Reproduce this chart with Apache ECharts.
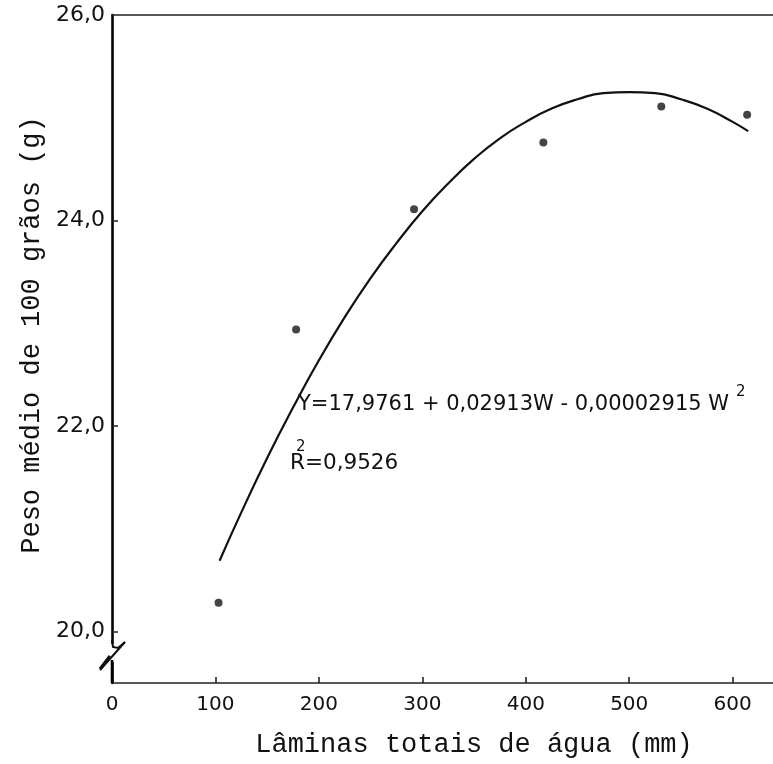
<!DOCTYPE html>
<html>
<head>
<meta charset="utf-8">
<script src="https://cdn.jsdelivr.net/npm/echarts@6/dist/echarts.min.js"></script>
<style>
  html, body { margin: 0; padding: 0; background: #ffffff; }
  #chart { width: 773px; height: 764px; }
</style>
</head>
<body>
<div id="chart"></div>
<script>
// Observed means: water depth (mm) vs mean weight of 100 grains (g)
const laminas = [103, 178, 292, 417, 531, 614];
const pesoMedio = [20.28, 22.94, 24.11, 24.76, 25.11, 25.03];

// Fitted quadratic Y = 17,9761 + 0,02913W - 0,00002915W², sampled along W
const curvaW = [104, 125, 150, 175, 200, 225, 250, 275, 300, 325, 350, 375, 400, 425, 450, 475, 500, 525, 550, 575, 600, 615];
const curvaY = [20.69, 21.16, 21.69, 22.18, 22.64, 23.06, 23.44, 23.78, 24.09, 24.36, 24.60, 24.80, 24.96, 25.09, 25.18, 25.24, 25.25, 25.24, 25.18, 25.09, 24.96, 24.87];

// Axis ticks
const xTicks = [0, 100, 200, 300, 400, 500, 600];
const yTicks = [20, 22, 24, 26];

const equacao = 'Y=17,9761 + 0,02913W - 0,00002915 W';
const r2Texto = 'R=0,9526';

const chart = echarts.init(document.getElementById('chart'), null, { renderer: 'canvas' });

const ink = '#111';
const labelFont = 'DejaVu Sans';
const monoFont = 'Liberation Mono';

chart.setOption({
  backgroundColor: '#ffffff',
  animation: false,
  grid: { left: 112, right: 0, top: 15, bottom: 81, containLabel: false },
  xAxis: [
    {
      type: 'value',
      min: 0,
      max: 639,
      position: 'bottom',
      axisLine: { show: true, lineStyle: { color: '#222', width: 1.6 } },
      axisTick: { show: true, inside: true, length: 6, customValues: xTicks.slice(1), lineStyle: { color: '#222', width: 1.6 } },
      axisLabel: {
        show: true, customValues: xTicks, margin: 12,
        fontFamily: labelFont, fontSize: 20, color: ink
      },
      splitLine: { show: false }
    },
    {
      type: 'value',
      min: 0,
      max: 639,
      position: 'top',
      axisLine: { show: true, onZero: false, lineStyle: { color: '#222', width: 1.6 } },
      axisTick: { show: false },
      axisLabel: { show: false },
      splitLine: { show: false }
    }
  ],
  yAxis: {
    type: 'value',
    min: 19.5,
    max: 26,
    axisLine: { show: true, lineStyle: { color: '#000', width: 2.6 } },
    axisTick: { show: true, inside: true, length: 6, customValues: yTicks.slice(0, 3), lineStyle: { color: '#222', width: 1.5 } },
    axisLabel: {
      show: true, customValues: yTicks, margin: 7,
      fontFamily: labelFont, fontSize: 22, color: ink,
      formatter: v => v.toFixed(1).replace('.', ',')
    },
    splitLine: { show: false }
  },
  series: [
    {
      name: 'Ajuste',
      type: 'line',
      smooth: true,
      showSymbol: false,
      data: curvaW.map((w, i) => [w, curvaY[i]]),
      lineStyle: { color: '#111', width: 2.2 },
      z: 3
    },
    {
      name: 'Médias',
      type: 'scatter',
      data: laminas.map((w, i) => [w, pesoMedio[i]]),
      symbol: 'circle',
      symbolSize: 8,
      itemStyle: { color: '#151515' },
      z: 4
    }
  ],
  graphic: [
    // axis break on the y axis
    { type: 'rect', shape: { x: 106, y: 644, width: 12, height: 18 }, style: { fill: '#ffffff' }, z: 50 },
    { type: 'polyline', shape: { points: [[112, 640], [113, 647], [118, 648], [125, 642]] },
      style: { stroke: '#111', lineWidth: 2, fill: null }, z: 51 },
    { type: 'polyline', shape: { points: [[125, 642], [100, 670]] },
      style: { stroke: '#111', lineWidth: 2, fill: null }, z: 51 },
    { type: 'polyline', shape: { points: [[110, 656], [100, 669]] },
      style: { stroke: '#111', lineWidth: 3, fill: null }, z: 51 },
    { type: 'polyline', shape: { points: [[112, 660], [112, 683]] },
      style: { stroke: '#000', lineWidth: 2.6, fill: null }, z: 51 },
    // regression equation
    { type: 'text', x: 298, y: 405, z: 60,
      style: { text: equacao, fontFamily: labelFont, fontSize: 21, fill: ink, textVerticalAlign: 'middle', textAlign: 'left' } },
    { type: 'text', x: 736, y: 392, z: 60,
      style: { text: '2', fontFamily: labelFont, fontSize: 15, fill: ink, textVerticalAlign: 'middle', textAlign: 'left' } },
    { type: 'text', x: 290, y: 463, z: 60,
      style: { text: r2Texto, fontFamily: labelFont, fontSize: 21.5, fill: ink, textVerticalAlign: 'middle', textAlign: 'left' } },
    { type: 'text', x: 296, y: 447, z: 60,
      style: { text: '2', fontFamily: labelFont, fontSize: 15, fill: ink, textVerticalAlign: 'middle', textAlign: 'left' } },
    // axis titles
    { type: 'text', x: 474, y: 745, z: 60,
      style: { text: 'Lâminas totais de água (mm)', fontFamily: monoFont, fontSize: 27, fill: ink, textAlign: 'center', textVerticalAlign: 'middle' } },
    { type: 'text', x: 32, y: 335, rotation: Math.PI / 2, z: 60,
      style: { text: 'Peso médio de 100 grãos (g)', fontFamily: monoFont, fontSize: 27, fill: ink, textAlign: 'center', textVerticalAlign: 'middle' } }
  ]
});
</script>
</body>
</html>
